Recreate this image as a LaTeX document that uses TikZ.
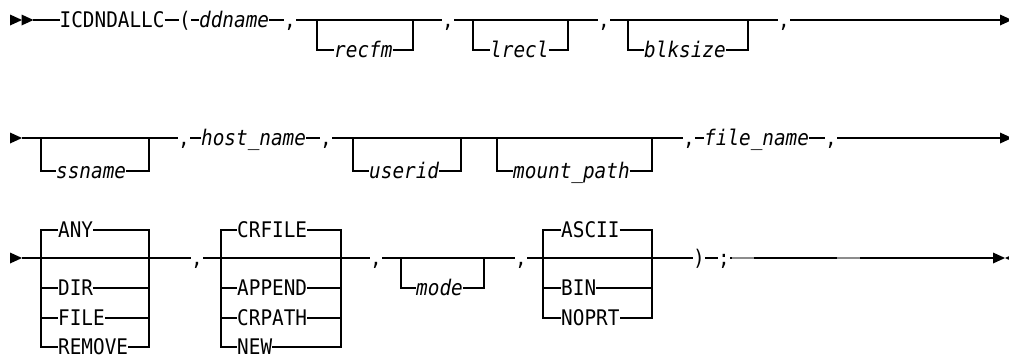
\documentclass[tikz,border=0pt]{standalone}
\usepackage{fontspec}
\newfontfamily\rr{DejaVu Sans Mono}[FakeStretch=0.9,ItalicFont={DejaVu Sans Mono Oblique}]
\begin{document}
\begin{tikzpicture}[x=1pt,y=-1pt,
  kw/.style={inner sep=0pt,text height=15.6pt,text depth=0pt,anchor=west,
             font=\rr\fontsize{21.5}{22}\selectfont},
  var/.style={kw,font=\rr\itshape\fontsize{21.5}{22}\selectfont},
  rail/.style={line width=1.2pt,line cap=butt,line join=miter},
  headR/.style={fill=black},
  faded/.style={line width=1.4pt,draw=black!45}]
\useasboundingbox (0,0) rectangle (1009,354);

% ---------------- row 1 ----------------
\coordinate (r1s) at (10,20);
\coordinate (r1t) at (21.5,20);
\coordinate (r1a) at (33,20);
\fill[headR] (r1s) ++(0,-5.5) -- ++(12,5.5) -- ++(-12,5.5) -- cycle;
\fill[headR] (r1t) ++(0,-5.5) -- ++(12,5.5) -- ++(-12,5.5) -- cycle;
\node[kw]  (icd)   at (59.5,20) {ICDNDALLC};
\node[kw]  (lp)    at (179,20)  {(};
\node[var] (dd)    at (199,20)  {ddname};
\node[kw]  (c1)    at (284,20)  {,};
\node[var] (recfm) at (334,50)  {recfm};
\node[kw]  (c2)    at (442,20)  {,};
\node[var] (lrecl) at (490,50)  {lrecl};
\node[kw]  (c3)    at (598,20)  {,};
\node[var] (blk)   at (644,50)  {blksize};
\node[kw]  (c4)    at (778,20)  {,};
\coordinate (r1e) at (1000,20);
\coordinate (o1l) at (317,20);  \coordinate (o1r) at (413,20);
\coordinate (o2l) at (473,20);  \coordinate (o2r) at (568,20);
\coordinate (o3l) at (628,20);  \coordinate (o3r) at (748,20);

\draw[rail] (r1a) -- (icd.west) (icd.east) -- (lp.west) (lp.east) -- (dd.west)
            (dd.east) -- (c1.west) (c1.east) -- (c2.west) (c2.east) -- (c3.west)
            (c3.east) -- (c4.west) (c4.east) -- (r1e);
\draw[rail] (o1l) |- (recfm.west) (recfm.east) -| (o1r);
\draw[rail] (o2l) |- (lrecl.west) (lrecl.east) -| (o2r);
\draw[rail] (o3l) |- (blk.west) (blk.east) -| (o3r);
\fill[headR] (r1e) ++(0,-5.5) -- ++(12,5.5) -- ++(-12,5.5) -- cycle;

% ---------------- row 2 ----------------
\coordinate (r2s) at (10,138);
\coordinate (r2a) at (22,138);
\fill[headR] (r2s) ++(0,-5.5) -- ++(12,5.5) -- ++(-12,5.5) -- cycle;
\node[var] (ss)    at (56,171)  {ssname};
\node[kw]  (c5)    at (178,138) {,};
\node[var] (host)  at (201,138) {host\_name};
\node[kw]  (c6)    at (320,138) {,};
\node[var] (uid)   at (369,171) {userid};
\node[var] (mnt)   at (513,171) {mount\_path};
\node[kw]  (c7)    at (683,138) {,};
\node[var] (fname) at (704,138) {file\_name};
\node[kw]  (c8)    at (825,138) {,};
\coordinate (r2e) at (1000,138);
\coordinate (p1l) at (41,138);   \coordinate (p1r) at (149,138);
\coordinate (p2l) at (353,138);  \coordinate (p2r) at (461,138);
\coordinate (p3l) at (497,138);  \coordinate (p3r) at (652,138);

\draw[rail] (r2a) -- (c5.west) (c5.east) -- (host.west) (host.east) -- (c6.west)
            (c6.east) -- (c7.west) (c7.east) -- (fname.west) (fname.east) -- (c8.west)
            (c8.east) -- (r2e);
\draw[rail] (p1l) |- (ss.west) (ss.east) -| (p1r);
\draw[rail] (p2l) |- (uid.west) (uid.east) -| (p2r);
\draw[rail] (p3l) |- (mnt.west) (mnt.east) -| (p3r);
\fill[headR] (r2e) ++(0,-5.5) -- ++(12,5.5) -- ++(-12,5.5) -- cycle;

% ---------------- row 3 ----------------
\coordinate (r3s) at (10,258);
\coordinate (r3a) at (22,258);
\fill[headR] (r3s) ++(0,-5.5) -- ++(12,5.5) -- ++(-12,5.5) -- cycle;
% first choice group
\node[kw] (any)  at (58,230) {ANY};
\node[kw] (dir)  at (58,288) {DIR};
\node[kw] (file) at (58,318) {FILE};
\node[kw] (rem)  at (58,347) {REMOVE};
\coordinate (g1l) at (41,258);  \coordinate (g1r) at (149,258);
\node[kw] (c9) at (191,258) {,};
% second choice group
\node[kw] (crf)  at (237,230) {CRFILE};
\node[kw] (app)  at (237,288) {APPEND};
\node[kw] (crp)  at (237,318) {CRPATH};
\node[kw] (new)  at (237,347) {NEW};
\coordinate (g2l) at (221,258); \coordinate (g2r) at (341,258);
\node[kw] (c10) at (370,258) {,};
% optional mode
\node[var] (mode) at (416,288) {mode};
\coordinate (m1l) at (401,258); \coordinate (m1r) at (484,258);
\node[kw] (c11) at (515,258) {,};
% third choice group
\node[kw] (asc)  at (561,230) {ASCII};
\node[kw] (bin)  at (561,288) {BIN};
\node[kw] (nop)  at (561,318) {NOPRT};
\coordinate (g3l) at (543,258); \coordinate (g3r) at (652,258);
\node[kw] (rp)   at (693,258) {)};
\node[kw] (semi) at (718,258) {;};
\coordinate (r3e) at (993,258);
\coordinate (r3f) at (1005,258);

\draw[rail] (r3a) -- (c9.west) (c9.east) -- (c10.west) (c10.east) -- (c11.west)
            (c11.east) -- (rp.west) (rp.east) -- (semi.west) (semi.east) -- (r3e);
% group 1
\draw[rail] (any.west) -| (g1l) |- (rem.west);
\draw[rail] (g1l |- dir.west) -- (dir.west) (g1l |- file.west) -- (file.west);
\draw[rail] (any.east) -| (g1r) |- (rem.east);
\draw[rail] (dir.east) -- (g1r |- dir.east) (file.east) -- (g1r |- file.east);
% group 2
\draw[rail] (crf.west) -| (g2l) |- (new.west);
\draw[rail] (g2l |- app.west) -- (app.west) (g2l |- crp.west) -- (crp.west);
\draw[rail] (crf.east) -| (g2r) |- (new.east);
\draw[rail] (app.east) -- (g2r |- app.east) (crp.east) -- (g2r |- crp.east);
% mode
\draw[rail] (m1l) |- (mode.west) (mode.east) -| (m1r);
% group 3
\draw[rail] (asc.west) -| (g3l) |- (nop.west);
\draw[rail] (g3l |- bin.west) -- (bin.west);
\draw[rail] (asc.east) -| (g3r) |- (nop.east);
\draw[rail] (bin.east) -- (g3r |- bin.east);
% lighter stretches of the closing rail
\draw[faded] (semi.east) ++(2,0) -- ++(22,0);
\draw[faded] (837,258) -- (860,258);
% end marker
\fill[headR] (r3e) ++(0,-5.5) -- ++(12,5.5) -- ++(-12,5.5) -- cycle;
\fill[headR] (r3f) -- ++(12,-5.5) -- ++(0,11) -- cycle;
\end{tikzpicture}
\end{document}
